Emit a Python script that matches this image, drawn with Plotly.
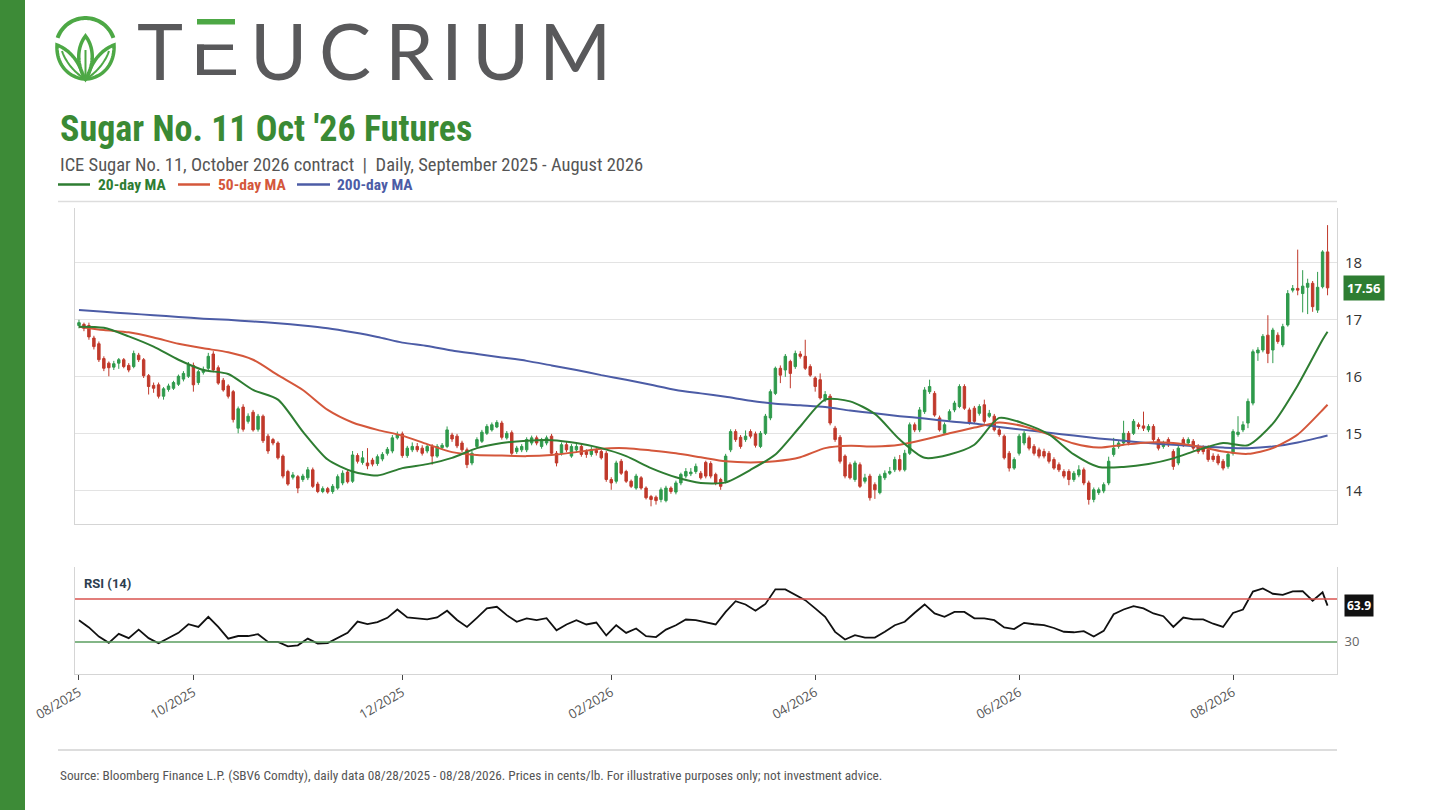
import numpy as np
import pandas as pd
import plotly.graph_objects as go

# trading days, ICE US holidays removed
start_date = "2025-08-28"
end_date = "2026-08-28"
holidays = ["2025-09-01", "2025-11-27", "2025-12-25", "2026-01-01", "2026-01-19",
            "2026-02-16", "2026-04-03", "2026-05-25", "2026-06-19", "2026-07-03"]

opens = [
    16.90, 16.92, 16.90, 16.68, 16.58, 16.32, 16.24, 16.17, 16.24, 16.30,
    16.20, 16.18, 16.38, 16.30, 16.02, 15.85, 15.86, 15.66, 15.78, 15.80,
    15.87, 15.96, 16.01, 16.20, 15.90, 16.08, 16.15, 16.40, 16.16, 15.94,
    15.84, 15.74, 15.10, 15.47, 15.22, 15.38, 15.08, 15.31, 14.96, 14.90,
    14.84, 14.61, 14.34, 14.24, 14.25, 14.20, 14.23, 14.37, 14.12, 13.99,
    14.04, 13.99, 14.05, 14.14, 14.33, 14.17, 14.62, 14.50, 14.49, 14.54,
    14.48, 14.56, 14.66, 14.70, 14.93, 15.00, 14.62, 14.72, 14.78, 14.75,
    14.70, 14.78, 14.61, 14.76, 14.78, 14.98, 14.96, 14.84, 14.72, 14.49,
    14.78, 14.87, 15.01, 15.07, 15.12, 15.19, 14.93, 15.02, 14.69, 14.72,
    14.72, 14.84, 14.93, 14.78, 14.84, 14.96, 14.66, 14.66, 14.81, 14.61,
    14.72, 14.78, 14.69, 14.64, 14.71, 14.69, 14.66, 14.20, 14.17, 14.52,
    14.34, 14.17, 14.05, 14.23, 14.05, 13.90, 13.89, 13.85, 13.83, 14.05,
    13.98, 14.14, 14.26, 14.30, 14.34, 14.31, 14.50, 14.48, 14.29, 14.20,
    14.17, 14.72, 15.04, 14.94, 14.90, 15.04, 15.00, 14.78, 15.01, 15.28,
    15.71, 16.15, 16.12, 16.27, 16.18, 16.40, 16.36, 16.18, 15.98, 15.95,
    15.60, 15.66, 15.10, 14.94, 14.61, 14.46, 14.20, 14.46, 14.17, 14.26,
    14.11, 13.97, 14.23, 14.31, 14.37, 14.55, 14.37, 14.66, 15.16, 15.07,
    15.39, 15.74, 15.71, 15.28, 15.01, 15.25, 15.42, 15.48, 15.83, 15.42,
    15.45, 15.36, 15.51, 15.31, 15.31, 15.07, 14.96, 14.66, 14.40, 14.66,
    14.84, 14.93, 14.78, 14.72, 14.69, 14.66, 14.55, 14.46, 14.34, 14.34,
    14.20, 14.28, 14.37, 14.14, 13.85, 13.97, 14.00, 14.14, 14.64, 14.78,
    14.84, 15.01, 15.01, 15.16, 15.14, 15.07, 15.13, 14.90, 14.78, 14.90,
    14.69, 14.49, 14.90, 14.84, 14.87, 14.78, 14.75, 14.72, 14.61, 14.61,
    14.52, 14.43, 14.66, 14.99, 15.07, 15.19, 15.54, 16.42, 16.47, 16.73,
    16.47, 16.73, 16.56, 16.91, 17.52, 17.55, 17.46, 17.57, 17.64, 17.17,
    17.58, 18.19,
]
highs = [
    17.00, 16.95, 16.95, 16.72, 16.62, 16.36, 16.27, 16.28, 16.33, 16.33,
    16.24, 16.46, 16.42, 16.33, 16.05, 15.90, 15.90, 15.82, 15.88, 15.93,
    16.04, 16.10, 16.26, 16.25, 16.12, 16.18, 16.42, 16.45, 16.20, 15.98,
    15.87, 15.77, 15.48, 15.52, 15.36, 15.42, 15.35, 15.34, 15.00, 14.93,
    14.87, 14.64, 14.37, 14.33, 14.28, 14.30, 14.42, 14.41, 14.16, 14.08,
    14.07, 14.12, 14.29, 14.36, 14.38, 14.70, 14.66, 14.70, 14.75, 14.58,
    14.64, 14.68, 14.77, 14.98, 15.04, 15.04, 14.79, 14.85, 14.84, 14.80,
    14.82, 14.82, 14.82, 14.84, 15.13, 15.02, 15.00, 14.88, 14.76, 14.70,
    14.94, 15.07, 15.17, 15.20, 15.24, 15.23, 15.05, 15.06, 14.79, 14.82,
    14.94, 14.97, 14.97, 14.93, 14.97, 15.00, 14.70, 14.85, 14.86, 14.82,
    14.83, 14.82, 14.73, 14.77, 14.75, 14.72, 14.70, 14.24, 14.53, 14.56,
    14.37, 14.20, 14.30, 14.26, 14.08, 13.93, 13.92, 14.06, 14.09, 14.08,
    14.18, 14.32, 14.40, 14.40, 14.48, 14.35, 14.53, 14.52, 14.32, 14.23,
    14.65, 15.08, 15.08, 14.98, 15.06, 15.08, 15.04, 15.05, 15.35, 15.78,
    16.18, 16.20, 16.40, 16.30, 16.46, 16.45, 16.65, 16.22, 16.01, 16.06,
    15.75, 15.70, 15.14, 14.98, 14.64, 14.50, 14.53, 14.50, 14.30, 14.30,
    14.15, 14.30, 14.36, 14.42, 14.60, 14.63, 14.72, 15.20, 15.20, 15.47,
    15.82, 15.95, 15.75, 15.32, 15.20, 15.43, 15.58, 15.87, 15.87, 15.46,
    15.49, 15.52, 15.60, 15.42, 15.35, 15.11, 14.99, 14.70, 14.59, 15.00,
    15.05, 14.97, 14.82, 14.76, 14.74, 14.70, 14.59, 14.50, 14.38, 14.38,
    14.35, 14.45, 14.41, 14.18, 14.06, 14.06, 14.15, 14.60, 14.93, 14.88,
    15.23, 15.05, 15.26, 15.20, 15.39, 15.17, 15.17, 14.94, 14.88, 14.94,
    14.73, 14.79, 14.94, 14.94, 14.91, 14.82, 14.80, 14.80, 14.66, 14.65,
    14.56, 14.68, 15.08, 15.31, 15.22, 15.62, 16.48, 16.52, 16.75, 17.08,
    16.86, 16.78, 16.93, 17.52, 17.61, 18.23, 17.87, 17.72, 17.68, 17.84,
    18.22, 18.66,
]
lows = [
    16.85, 16.80, 16.65, 16.48, 16.26, 16.10, 16.01, 16.12, 16.14, 16.15,
    16.08, 16.15, 16.26, 15.98, 15.69, 15.72, 15.62, 15.60, 15.74, 15.77,
    15.84, 15.92, 15.98, 15.74, 15.86, 16.04, 16.12, 16.08, 15.86, 15.74,
    15.62, 15.20, 15.01, 15.04, 15.18, 15.04, 15.04, 14.84, 14.65, 14.80,
    14.55, 14.22, 14.09, 14.20, 13.96, 14.16, 14.19, 14.05, 13.96, 13.96,
    13.95, 13.95, 14.02, 14.10, 14.13, 14.14, 14.48, 14.46, 14.38, 14.43,
    14.44, 14.52, 14.62, 14.66, 14.90, 14.58, 14.58, 14.68, 14.68, 14.62,
    14.66, 14.46, 14.58, 14.72, 14.75, 14.86, 14.75, 14.68, 14.40, 14.45,
    14.74, 14.84, 14.98, 15.04, 15.10, 14.90, 14.90, 14.62, 14.65, 14.68,
    14.68, 14.80, 14.80, 14.74, 14.80, 14.63, 14.43, 14.62, 14.68, 14.58,
    14.68, 14.60, 14.58, 14.60, 14.62, 14.55, 14.16, 14.02, 14.13, 14.28,
    14.14, 14.05, 14.02, 14.02, 13.85, 13.73, 13.76, 13.80, 13.80, 13.95,
    13.94, 14.10, 14.22, 14.26, 14.30, 14.20, 14.22, 14.22, 14.10, 14.02,
    14.13, 14.68, 14.86, 14.74, 14.86, 14.92, 14.76, 14.75, 14.98, 15.24,
    15.68, 15.89, 16.00, 15.80, 16.14, 16.32, 16.12, 16.00, 15.74, 15.60,
    15.56, 15.15, 14.86, 14.48, 14.22, 14.20, 14.16, 14.05, 14.13, 13.83,
    13.86, 13.94, 14.19, 14.28, 14.33, 14.34, 14.34, 14.63, 15.03, 15.03,
    15.35, 15.70, 15.30, 15.04, 14.98, 15.22, 15.38, 15.45, 15.42, 15.16,
    15.18, 15.32, 15.18, 15.28, 15.04, 14.95, 14.55, 14.34, 14.37, 14.62,
    14.80, 14.71, 14.62, 14.57, 14.57, 14.48, 14.37, 14.33, 14.22, 14.10,
    14.16, 14.24, 14.10, 13.76, 13.80, 13.93, 13.96, 14.10, 14.60, 14.74,
    14.80, 14.80, 14.98, 15.08, 15.05, 15.03, 14.86, 14.71, 14.74, 14.77,
    14.37, 14.45, 14.77, 14.80, 14.71, 14.65, 14.64, 14.51, 14.51, 14.45,
    14.36, 14.39, 14.62, 14.95, 15.03, 15.10, 15.50, 16.28, 16.43, 16.24,
    16.24, 16.58, 16.52, 16.88, 17.48, 17.43, 17.13, 17.10, 17.14, 17.12,
    17.55, 17.43,
]
closes = [
    16.95, 16.85, 16.70, 16.53, 16.30, 16.15, 16.16, 16.23, 16.30, 16.18,
    16.12, 16.41, 16.30, 16.02, 15.83, 15.80, 15.66, 15.79, 15.84, 15.90,
    16.01, 16.06, 16.21, 15.86, 16.09, 16.13, 16.36, 16.12, 15.89, 15.77,
    15.66, 15.25, 15.44, 15.08, 15.31, 15.07, 15.31, 14.88, 14.70, 14.84,
    14.58, 14.26, 14.12, 14.28, 14.05, 14.26, 14.37, 14.08, 13.99, 14.04,
    13.98, 14.08, 14.25, 14.31, 14.16, 14.63, 14.52, 14.58, 14.44, 14.47,
    14.60, 14.64, 14.73, 14.93, 14.99, 14.62, 14.75, 14.78, 14.72, 14.66,
    14.78, 14.61, 14.78, 14.80, 15.07, 14.91, 14.79, 14.72, 14.46, 14.66,
    14.90, 15.03, 15.13, 15.16, 15.20, 14.94, 15.01, 14.66, 14.75, 14.78,
    14.90, 14.93, 14.84, 14.90, 14.93, 14.66, 14.49, 14.81, 14.72, 14.78,
    14.78, 14.64, 14.64, 14.72, 14.67, 14.58, 14.20, 14.14, 14.49, 14.31,
    14.17, 14.08, 14.26, 14.05, 13.88, 13.85, 13.83, 14.02, 14.05, 13.99,
    14.14, 14.29, 14.34, 14.33, 14.43, 14.23, 14.26, 14.26, 14.14, 14.08,
    14.61, 15.04, 14.90, 14.78, 14.96, 14.96, 14.80, 15.01, 15.31, 15.74,
    16.15, 16.03, 16.36, 16.06, 16.41, 16.36, 16.15, 16.03, 15.83, 15.63,
    15.69, 15.19, 14.90, 14.52, 14.26, 14.23, 14.49, 14.08, 14.23, 13.88,
    14.02, 14.26, 14.31, 14.34, 14.55, 14.37, 14.66, 15.16, 15.07, 15.42,
    15.77, 15.83, 15.33, 15.07, 15.16, 15.39, 15.54, 15.83, 15.45, 15.19,
    15.22, 15.48, 15.22, 15.36, 15.07, 14.99, 14.58, 14.40, 14.55, 14.96,
    15.01, 14.75, 14.66, 14.61, 14.61, 14.52, 14.40, 14.37, 14.26, 14.20,
    14.31, 14.37, 14.14, 13.85, 14.02, 14.02, 14.11, 14.52, 14.75, 14.84,
    15.01, 14.84, 15.22, 15.13, 15.10, 15.13, 14.90, 14.75, 14.84, 14.81,
    14.43, 14.75, 14.81, 14.90, 14.75, 14.69, 14.69, 14.55, 14.55, 14.49,
    14.40, 14.64, 15.04, 15.03, 15.16, 15.57, 16.44, 16.47, 16.71, 16.41,
    16.82, 16.62, 16.88, 17.46, 17.55, 17.52, 17.59, 17.64, 17.23, 17.57,
    18.19, 17.56,
]

# moving averages read every 5 sessions (plus the last session)
ma20 = [16.88, 16.86, 16.71, 16.53, 16.30, 16.12, 16.05, 15.77, 15.60, 15.04,
        14.55, 14.34, 14.27, 14.40, 14.47, 14.58, 14.75, 14.84, 14.88, 14.89,
        14.84, 14.75, 14.61, 14.40, 14.24, 14.14, 14.15, 14.37, 14.64, 15.13,
        15.60, 15.57, 15.35, 14.90, 14.58, 14.64, 14.81, 15.28, 15.18, 14.99,
        14.64, 14.42, 14.42, 14.47, 14.57, 14.72, 14.84, 14.80, 15.18, 15.85,
        16.65, 16.79]
ma50 = [16.88, 16.82, 16.78, 16.69, 16.58, 16.50, 16.43, 16.30, 16.03, 15.77,
        15.42, 15.20, 15.07, 14.97, 14.82, 14.68, 14.63, 14.62, 14.61, 14.63,
        14.68, 14.74, 14.75, 14.71, 14.66, 14.59, 14.52, 14.50, 14.52, 14.59,
        14.75, 14.79, 14.78, 14.81, 14.90, 15.01, 15.11, 15.20, 15.13, 14.99,
        14.83, 14.76, 14.81, 14.85, 14.84, 14.78, 14.69, 14.65, 14.75, 14.99,
        15.42, 15.51]
ma200 = [17.17, 17.14, 17.11, 17.08, 17.05, 17.02, 17.00, 16.97, 16.94, 16.90,
         16.85, 16.78, 16.70, 16.60, 16.54, 16.46, 16.40, 16.34, 16.28, 16.20,
         16.12, 16.03, 15.95, 15.86, 15.77, 15.71, 15.65, 15.58, 15.53, 15.50,
         15.47, 15.41, 15.36, 15.31, 15.27, 15.22, 15.18, 15.12, 15.07, 15.02,
         14.97, 14.92, 14.88, 14.84, 14.81, 14.78, 14.76, 14.75, 14.78, 14.85,
         14.95, 14.97]

# RSI(14) read every 2 sessions (plus the last session)
rsi = [50.3, 43.5, 35.0, 29.1, 37.5, 33.5, 41.5, 33.5, 28.8, 33.5,
       38.5, 46.5, 44.0, 53.5, 44.0, 33.0, 35.5, 35.5, 37.2, 30.0,
       30.0, 25.9, 26.8, 33.1, 28.5, 28.9, 33.5, 38.5, 49.0, 46.6,
       48.5, 52.5, 60.3, 52.8, 52.0, 51.0, 52.8, 59.1, 50.5, 44.0,
       52.5, 61.3, 62.8, 55.0, 48.8, 51.9, 50.3, 52.2, 40.9, 46.3,
       50.3, 46.3, 48.1, 36.0, 45.6, 38.4, 42.5, 35.3, 34.5, 41.5,
       45.6, 50.9, 50.3, 48.6, 46.3, 58.0, 68.0, 65.0, 59.1, 65.5,
       79.1, 79.1, 74.4, 69.0, 61.3, 53.5, 39.4, 32.2, 36.3, 34.0,
       34.1, 39.4, 45.6, 48.8, 57.2, 65.0, 56.6, 53.5, 58.0, 58.0,
       52.0, 51.9, 50.3, 43.5, 42.0, 47.8, 46.5, 45.6, 43.0, 39.5,
       39.0, 40.0, 35.0, 40.3, 55.9, 60.3, 63.4, 61.3, 56.6, 54.0,
       44.0, 52.8, 51.0, 51.0, 47.0, 44.0, 57.0, 60.3, 77.0, 80.0,
       75.0, 74.0, 77.2, 77.5, 68.5, 76.3, 63.9]

GREEN = "#2f9a4c"
RED = "#c0392b"
C20 = "#2e7d32"
C50 = "#d4573b"
C200 = "#4c5ca6"
TITLE_GREEN = "#3a8a34"
GRAY_TXT = "#555555"

W, H = 1441, 810


def px(x):
    return x / W


def py(y):
    return 1 - y / H


def bez(p0, p1, p2, p3, n=24):
    t = np.linspace(0, 1, n)[:, None]
    p0, p1, p2, p3 = map(np.array, (p0, p1, p2, p3))
    pts = (1 - t) ** 3 * p0 + 3 * (1 - t) ** 2 * t * p1 + 3 * (1 - t) * t ** 2 * p2 + t ** 3 * p3
    return pts.tolist()


def to_path(pts, close=True):
    s = "M " + " L ".join(f"{px(x):.5f},{py(y):.5f}" for x, y in pts)
    return s + (" Z" if close else "")


dates = pd.bdate_range(start_date, end_date)
dates = dates[~dates.isin(pd.to_datetime(holidays))]
idx = np.arange(len(dates))

tickvals = [0] + [i for i in range(1, len(dates))
                  if dates[i].month != dates[i - 1].month and dates[i].month % 2 == 0]
ticktext = [dates[i].strftime("%m/%Y") for i in tickvals]

ma_x = list(idx[::5]) + [idx[-1]]
rsi_x = list(idx[::2]) + [idx[-1]]

fig = go.Figure()

fig.add_trace(go.Candlestick(
    x=idx, open=opens, high=highs, low=lows, close=closes,
    increasing=dict(line=dict(color=GREEN, width=1), fillcolor=GREEN),
    decreasing=dict(line=dict(color=RED, width=1), fillcolor=RED),
    whiskerwidth=0, xaxis="x", yaxis="y", hoverinfo="skip",
))
for vals, col in [(ma200, C200), (ma50, C50), (ma20, C20)]:
    fig.add_trace(go.Scatter(x=ma_x, y=vals, mode="lines",
                             line=dict(color=col, width=2, shape="spline", smoothing=0.7),
                             xaxis="x", yaxis="y", hoverinfo="skip"))

fig.add_trace(go.Scatter(x=rsi_x, y=rsi, mode="lines", line=dict(color="#111111", width=1.8),
                         xaxis="x2", yaxis="y2", hoverinfo="skip"))

shapes = []
annotations = []

# green band on the left
shapes.append(dict(type="rect", xref="paper", yref="paper", x0=0, x1=px(25), y0=0, y1=1,
                   fillcolor="#3d8b37", line=dict(width=0), layer="below"))

# separators
shapes.append(dict(type="line", xref="paper", yref="paper", x0=px(58), x1=px(1337),
                   y0=py(201.5), y1=py(201.5), line=dict(color="#dddddd", width=1.5)))
shapes.append(dict(type="line", xref="paper", yref="paper", x0=px(58), x1=px(1337),
                   y0=py(750), y1=py(750), line=dict(color="#dddddd", width=2)))

# RSI bands
shapes.append(dict(type="line", xref="x2 domain", yref="y2", x0=0, x1=1, y0=70, y1=70,
                   line=dict(color="#d9534f", width=1.5)))
shapes.append(dict(type="line", xref="x2 domain", yref="y2", x0=0, x1=1, y0=30, y1=30,
                   line=dict(color="#5a9e5f", width=1.5)))

# logo icon
LOGO_GREEN = "#4da845"
th = np.radians(np.linspace(19, 161, 40))
arc = [(85.5 + 29.5 * np.cos(a), 47.5 - 29.5 * np.sin(a)) for a in th]
shapes.append(dict(type="path", xref="paper", yref="paper", path=to_path(arc, close=False),
                   line=dict(color=LOGO_GREEN, width=4)))
left_leaf = bez((84, 79), (66, 77), (56, 62), (57, 45)) + bez((57, 45), (70, 50), (80, 62), (84, 79))
right_leaf = [(171 - x, y) for x, y in left_leaf]
mid_leaf = bez((85.5, 36), (94, 47), (95, 64), (85.5, 79)) + bez((85.5, 79), (76, 64), (77, 47), (85.5, 36))
for leaf in (left_leaf, right_leaf, mid_leaf):
    shapes.append(dict(type="path", xref="paper", yref="paper", path=to_path(leaf),
                       line=dict(color=LOGO_GREEN, width=3.5), fillcolor="white"))
vein_l = bez((82, 77), (72, 70), (65, 60), (62, 51))
vein_r = [(171 - x, y) for x, y in vein_l]
for v in (vein_l, vein_r, [(85.5, 50), (85.5, 78)]):
    shapes.append(dict(type="path", xref="paper", yref="paper", path=to_path(v, close=False),
                       line=dict(color=LOGO_GREEN, width=2)))

# logo wordmark
LOGO_GRAY = "#59595b"
for ch, cx in [("T", 160), ("U", 278), ("C", 345), ("R", 409), ("I", 452), ("U", 500), ("M", 575)]:
    annotations.append(dict(text=ch, x=px(cx), y=py(50), xref="paper", yref="paper",
                            xanchor="center", yanchor="middle", showarrow=False,
                            font=dict(family="Lato", size=78, color=LOGO_GRAY)))
# the E is drawn as bars, top one green
for x0, x1, y0, y1, col in [(197, 235, 19, 24.5, LOGO_GREEN), (197, 233, 44.5, 50, LOGO_GRAY),
                            (197, 236, 69.5, 75, LOGO_GRAY), (197, 204, 44.5, 75, LOGO_GRAY)]:
    shapes.append(dict(type="rect", xref="paper", yref="paper", x0=px(x0), x1=px(x1),
                       y0=py(y1), y1=py(y0), fillcolor=col, line=dict(width=0)))

COND = "Liberation Sans Narrow, Roboto Condensed, Roboto, sans-serif"
annotations.append(dict(text="<b>Sugar No. 11 Oct '26 Futures</b>", x=px(58), y=py(129),
                        xref="paper", yref="paper", xanchor="left", yanchor="middle",
                        showarrow=False, font=dict(family=COND, size=36, color=TITLE_GREEN)))
annotations.append(dict(text="ICE Sugar No. 11, October 2026 contract  |  Daily, September 2025 - August 2026",
                        x=px(58), y=py(165), xref="paper", yref="paper", xanchor="left",
                        yanchor="middle", showarrow=False,
                        font=dict(family=COND, size=18.5, color=GRAY_TXT)))

# legend row
for x0, x1, tx, label, col in [(58, 90, 96, "20-day MA", C20), (178, 210, 216, "50-day MA", C50),
                               (297, 330, 335, "200-day MA", C200)]:
    shapes.append(dict(type="line", xref="paper", yref="paper", x0=px(x0), x1=px(x1),
                       y0=py(184.5), y1=py(184.5), line=dict(color=col, width=2.5)))
    annotations.append(dict(text=f"<b>{label}</b>", x=px(tx), y=py(185), xref="paper",
                            yref="paper", xanchor="left", yanchor="middle", showarrow=False,
                            font=dict(family=COND, size=15.5, color=col)))

annotations.append(dict(text="<b>RSI (14)</b>", x=px(82), y=py(583), xref="paper", yref="paper",
                        xanchor="left", yanchor="middle", showarrow=False,
                        font=dict(family="Roboto", size=13, color="#2c3e50")))

# last value tags
annotations.append(dict(text=f"<b>{closes[-1]:.2f}</b>", x=px(1343), y=closes[-1], xref="paper",
                        yref="y", xanchor="left", yanchor="middle", showarrow=False,
                        bgcolor=C20, borderpad=3,
                        font=dict(family="Open Sans", size=13, color="white")))
annotations.append(dict(text=f"<b>{rsi[-1]:.1f}</b>", x=px(1344), y=rsi[-1], xref="paper",
                        yref="y2", xanchor="left", yanchor="middle", showarrow=False,
                        bgcolor="#111111", borderpad=2,
                        font=dict(family="Open Sans", size=12, color="white")))

annotations.append(dict(
    text="Source: Bloomberg Finance L.P. (SBV6 Comdty), daily data 08/28/2025 - 08/28/2026. "
         "Prices in cents/lb. For illustrative purposes only; not investment advice.",
    x=px(58), y=py(775), xref="paper", yref="paper", xanchor="left", yanchor="middle",
    showarrow=False, font=dict(family=COND, size=13.3, color=GRAY_TXT)))

AXIS_LINE = "#d5d5d5"
fig.update_layout(
    width=W, height=H,
    margin=dict(l=0, r=0, t=0, b=0, autoexpand=False),
    paper_bgcolor="white", plot_bgcolor="white",
    showlegend=False,
    hovermode=False,
    shapes=shapes,
    annotations=annotations,
    xaxis=dict(domain=[px(75), px(1337)], range=[-0.8, 252.9], anchor="y",
               showticklabels=False, showgrid=False, zeroline=False, automargin=False,
               showline=True, linecolor=AXIS_LINE, rangeslider=dict(visible=False)),
    yaxis=dict(domain=[py(524), py(208)], range=[13.42, 18.96], anchor="x", side="right",
               tickvals=[14, 15, 16, 17, 18], showgrid=True, gridcolor="#e3e3e3",
               zeroline=False, showline=True, mirror=True, linecolor=AXIS_LINE,
               ticklabelstandoff=4, automargin=False,
               tickfont=dict(family="Open Sans", size=15, color="#333333")),
    xaxis2=dict(domain=[px(75), px(1337)], anchor="y2", matches="x",
                tickvals=tickvals, ticktext=ticktext, tickangle=-30,
                ticks="outside", ticklen=5, tickcolor="#444444", showgrid=False,
                zeroline=False, showline=True, linecolor=AXIS_LINE, automargin=False,
                tickfont=dict(family="Open Sans", size=13, color=GRAY_TXT)),
    yaxis2=dict(domain=[py(674), py(567)], range=[0, 100], anchor="x2", side="right",
                tickvals=[30, 70], showgrid=False, zeroline=False, showline=True,
                mirror=True, linecolor=AXIS_LINE, ticklabelstandoff=4, automargin=False,
                tickfont=dict(family="Open Sans", size=13, color="#666666")),
)

fig.write_html("out.html", config={"displayModeBar": False},
               post_script="document.body.style.margin='0';")
